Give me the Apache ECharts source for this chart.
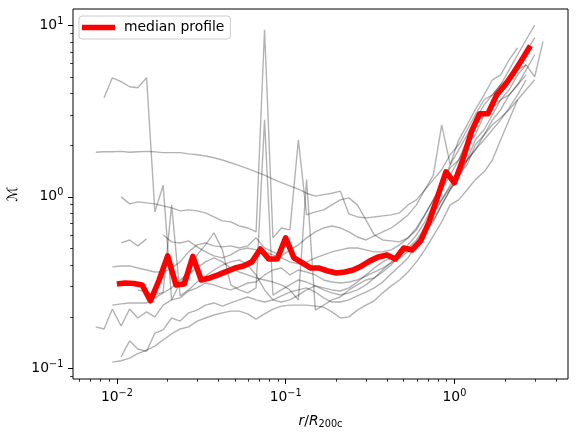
<!DOCTYPE html>
<html>
<head>
<meta charset="utf-8">
<script src="https://cdn.jsdelivr.net/npm/echarts@6/dist/echarts.min.js"></script>
<style>
html, body { margin: 0; padding: 0; background: #fff; }
#chart { width: 578px; height: 439px; }
</style>
</head>
<body>
<div id="chart"></div>
<script>
// radial grid shared by the individual (gray) profiles
const radius = [0.0075, 0.0084, 0.0094, 0.0106, 0.0119, 0.0133, 0.0150, 0.0168, 0.0188, 0.0211,
    0.0237, 0.0266, 0.0299, 0.0335, 0.0376, 0.0422, 0.0473, 0.0531, 0.0596, 0.0668,
    0.0750, 0.0841, 0.0944, 0.106, 0.119, 0.133, 0.150, 0.168, 0.188, 0.211,
    0.237, 0.266, 0.299, 0.335, 0.376, 0.422, 0.473, 0.531, 0.596, 0.668,
    0.750, 0.841, 0.944, 1.06, 1.19, 1.33, 1.50, 1.68, 1.88, 2.11,
    2.37, 2.66, 2.99, 3.35];

const profile1 = [1.82, 1.83, 1.83, 1.84, 1.82, 1.83, 1.84, 1.83, 1.81, 1.81, 1.81, 1.78, 1.76, 1.73, 1.69, 1.64, 1.58, 1.52, 1.46, 1.40, 1.34, 1.27, 1.21, 1.16, 1.11, 1.05, 1.01, 1.03, 1.05, 1.08, 0.796, 0.764, 0.754, 0.764, 0.775, 0.785, 0.807, 0.898, 0.961, 1.10, 1.34, 2.63, 1.54, 2.15, 2.63, 3.22, 3.93, 4.81, 5.14, 6.29, 7.39, null, null, null];
const profile2 = [null, 3.78, 4.94, 4.69, 4.38, 4.32, 4.94, 0.818, 1.17, 0.251, 0.315, 0.375, 0.459, 0.525, 0.617, 0.491, 0.307, 0.287, 0.276, 0.295, 2.81, 0.268, 0.287, 0.307, 0.328, 0.319, 0.303, 0.287, 0.276, 0.268, 0.276, 0.287, 0.307, 0.337, 0.375, 0.418, 0.459, 0.504, 0.561, 0.659, 0.734, 0.898, 1.10, 1.34, 1.64, 2.15, 2.46, 3.01, 3.68, 4.21, 5.14, 5.88, null, null];
const profile3 = [null, null, null, 1.0, 0.910, 0.935, 0.923, 0.910, 0.886, 0.863, 0.829, 0.840, 0.829, 0.807, 0.764, 0.725, 0.715, 0.677, 0.659, 0.625, 9.41, 0.577, 0.659, 0.642, 2.15, 0.785, 0.818, 0.840, 0.898, 0.961, 0.987, 0.898, 0.734, 0.600, 0.561, 0.554, 0.547, 0.577, 0.642, 0.785, 0.961, 1.17, 1.54, 1.88, 2.30, 2.81, 3.44, 3.93, 4.50, 5.50, 6.73, 8.23, 10.0, null];
const profile4 = [null, null, null, 0.539, 0.561, 0.518, 0.569, null, 0.600, 0.547, 0.539, 0.554, 0.511, 0.478, 0.453, 0.441, 0.459, 0.491, 0.504, 0.491, 0.478, 0.459, 0.441, 0.418, 0.407, 0.418, 0.441, 0.459, 0.478, 0.491, 0.504, 0.504, 0.491, 0.478, 0.478, 0.491, 0.525, 0.577, 0.659, 0.785, 0.961, 1.17, 1.48, 1.64, 2.01, 2.30, 3.01, 3.30, 3.68, 3.93, 4.50, 5.14, null, null];
const profile5 = [null, null, 0.391, 0.396, 0.396, 0.385, 0.375, 0.365, 0.365, 0.385, 0.418, 0.478, 0.525, 0.539, 0.518, 0.511, 0.518, 0.504, 0.518, 0.577, 0.504, 0.478, 0.453, 0.491, 0.525, 0.577, 0.625, 0.659, 0.677, 0.659, 0.625, 0.584, 0.561, 0.593, 0.625, 0.659, 0.715, 0.785, 0.898, 1.10, 1.26, 1.44, 1.76, 2.01, 2.46, 3.01, 3.68, 3.93, 4.50, 4.94, 5.50, 5.88, 5.01, 8.02];
const profile6 = [0.175, 0.170, 0.222, 0.177, 0.222, 0.197, 0.214, 0.200, 0.234, 0.251, 0.258, 0.283, 0.295, 0.315, 0.307, 0.295, 0.287, 0.299, 0.315, 0.319, 0.351, 0.375, 0.385, 0.351, 0.375, 0.365, 0.351, 0.328, 0.319, 0.315, 0.319, 0.328, 0.346, 0.365, 0.385, 0.412, 0.441, 0.478, 0.525, 0.625, 0.715, 0.898, 1.10, 1.29, 1.64, 1.88, 2.30, 2.81, 3.22, 3.93, 4.50, 5.50, 6.73, null];
const profile7 = [null, null, 0.234, 0.238, 0.241, 0.241, 0.241, 0.258, 0.276, 0.295, 0.328, 0.360, 0.385, 0.418, 0.441, 0.418, 0.385, 0.365, 0.351, 0.337, 0.328, 0.319, 0.307, 0.287, 0.251, 1.26, 0.219, 0.234, 0.251, 0.261, 0.287, 0.307, 0.328, 0.337, 0.365, 0.401, 0.459, 0.525, 0.600, 0.715, 0.898, 1.10, 1.34, 1.64, 2.15, 2.63, 3.01, 3.44, 4.10, 4.81, 5.63, 7.00, 8.45, null];
const profile8 = [null, null, 0.109, 0.111, 0.115, 0.122, 0.128, 0.135, 0.147, 0.159, 0.170, 0.175, 0.189, 0.197, 0.205, 0.211, 0.216, 0.216, 0.208, 0.194, 0.208, 0.222, 0.231, 0.234, 0.234, 0.234, 0.231, 0.228, 0.214, 0.197, 0.200, 0.219, 0.234, 0.248, 0.276, 0.303, 0.328, 0.365, 0.418, 0.491, 0.593, 0.715, 0.898, 0.961, 1.10, 1.26, 1.40, 1.64, 2.15, 2.81, 3.68, null, null, null];
const profile9 = [null, null, null, 0.117, 0.145, 0.130, 0.126, 0.161, 0.168, 0.197, 0.189, 0.211, 0.219, 0.234, 0.241, 0.231, 0.241, 0.251, 0.261, 0.251, 0.244, 0.251, 0.265, 0.279, 0.287, 0.295, 0.279, 0.258, 0.244, 0.244, 0.251, 0.265, 0.279, 0.295, 0.319, 0.356, 0.396, 0.441, 0.525, 0.642, 0.785, 0.961, 1.17, 1.44, 1.64, 1.88, 2.15, 2.46, 2.81, 3.30, 3.93, 4.81, null, null];
const profile10 = [null, null, null, null, null, 0.287, 0.279, 0.268, 0.279, 0.898, 0.265, 0.287, 0.319, 0.346, 0.375, 0.401, 0.418, 0.429, 0.401, 0.351, 0.287, 0.251, 0.244, 0.251, 0.268, 0.287, 0.303, 0.295, 0.287, 0.283, 0.295, 0.319, 0.351, 0.385, 0.418, 0.441, 0.459, 0.491, 0.547, 0.642, 0.818, 0.961, 1.13, 1.34, 1.54, 2.01, 2.30, 2.63, 2.89, 3.22, 3.68, 4.21, 4.81, null];

const profiles = [profile1, profile2, profile3, profile4, profile5, profile6, profile7, profile8, profile9, profile10];

// median profile has its own bins
const medianRadius = [0.0100, 0.0112, 0.0126, 0.0141, 0.0158, 0.0178, 0.0200, 0.0224, 0.0251, 0.0282,
    0.0316, 0.0355, 0.0398, 0.0447, 0.0501, 0.0562, 0.0631, 0.0708, 0.0794, 0.0891,
    0.100, 0.112, 0.126, 0.141, 0.158, 0.178, 0.200, 0.224, 0.251, 0.282,
    0.316, 0.355, 0.398, 0.447, 0.501, 0.562, 0.631, 0.708, 0.794, 0.891,
    1.000, 1.12, 1.26, 1.41, 1.58, 1.78, 2.00, 2.24, 2.51, 2.82];
const medianProfile = [0.311, 0.315, 0.313, 0.307, 0.248, 0.328, 0.453, 0.307, 0.311, 0.450,
    0.328, 0.337, 0.351, 0.368, 0.385, 0.396, 0.418, 0.497, 0.435, 0.435,
    0.577, 0.441, 0.412, 0.385, 0.385, 0.370, 0.360, 0.365, 0.375, 0.396,
    0.424, 0.447, 0.459, 0.435, 0.504, 0.491, 0.554, 0.715, 1.0, 1.40,
    1.21, 1.64, 2.39, 3.05, 3.05, 3.93, 4.50, 5.28, 6.29, 7.59];

const xMajor = [0.01, 0.1, 1];
const xMinor = [0.006, 0.007, 0.008, 0.009, 0.02, 0.03, 0.04, 0.05, 0.06, 0.07, 0.08, 0.09,
    0.2, 0.3, 0.4, 0.5, 0.6, 0.7, 0.8, 0.9, 2, 3, 4];
const yMajor = [0.1, 1, 10];
const yMinor = [0.09, 0.2, 0.3, 0.4, 0.5, 0.6, 0.7, 0.8, 0.9, 2, 3, 4, 5, 6, 7, 8, 9];

const font = "DejaVu Sans";

let dom = document.getElementById("chart");
let myChart = echarts.init(dom, null, { renderer: "canvas" });

function powerLabel(v) {
    let e = Math.round(Math.log10(v));
    return "{b|10}{s|" + (e < 0 ? "\u2212" + (-e) : e) + "}";
}

const labelRich = {
    b: { fontFamily: font, fontSize: 13.9, color: "#000", lineHeight: 16 },
    s: { fontFamily: font, fontSize: 9.7, color: "#000", verticalAlign: "bottom", padding: [0, 0, 8, 0] },
};

function majorAxis(values, extra) {
    return Object.assign({
        type: "log",
        logBase: 10,
        axisLine: { show: false },
        splitLine: { show: false },
        axisTick: { show: true, inside: false, length: 4.9, customValues: values, lineStyle: { color: "#000", width: 1 } },
        axisLabel: { show: true, customValues: values, margin: 9.7, formatter: powerLabel, rich: labelRich },
    }, extra);
}

function minorAxis(values, extra) {
    return Object.assign({
        type: "log",
        logBase: 10,
        axisLine: { show: false },
        splitLine: { show: false },
        axisTick: { show: true, inside: false, length: 2.8, customValues: values, lineStyle: { color: "#000", width: 0.8 } },
        axisLabel: { show: false },
    }, extra);
}

let series = profiles.map((p, idx) => ({
    name: "profile " + (idx + 1),
    type: "line",
    data: radius.map((r, i) => [r, p[i]]),
    showSymbol: false,
    symbol: "none",
    connectNulls: false,
    lineStyle: { color: "rgba(0,0,0,0.3)", width: 1.4 },
    silent: true,
    z: 2,
}));

series.push({
    name: "median profile",
    type: "line",
    data: medianRadius.map((r, i) => [r, medianProfile[i]]),
    symbol: "none",
    itemStyle: { color: "#ff0000" },
    lineStyle: { color: "#ff0000", width: 5.6, join: "round" },
    z: 5,
});

let option = {
    animation: false,
    backgroundColor: "#fff",
    textStyle: { fontFamily: font },
    grid: {
        left: 73, right: 10, top: 9, bottom: 60,
        containLabel: false,
        outerBoundsMode: "none",
        show: true,
        borderColor: "#000",
        borderWidth: 1,
        backgroundColor: "transparent",
    },
    legend: {
        data: ["median profile"],
        left: 79, top: 16,
        orient: "vertical",
        icon: "rect",
        itemWidth: 33,
        itemHeight: 5.5,
        padding: [4.5, 6, 4.5, 3],
        borderColor: "#cccccc",
        borderWidth: 1,
        borderRadius: 3,
        backgroundColor: "rgba(255,255,255,0.8)",
        textStyle: { fontFamily: font, fontSize: 13.9, color: "#000", padding: [0, 0, 0, 4] },
    },
    xAxis: [
        majorAxis(xMajor, {
            min: 0.005496, max: 4.71, position: "bottom",
            name: "{i|r}{n|/}{i|R}{sub|200c}",
            nameLocation: "middle",
            nameGap: 34,
            nameTextStyle: {
                rich: {
                    i: { fontFamily: font, fontStyle: "italic", fontSize: 13.9, color: "#000" },
                    n: { fontFamily: font, fontSize: 13.9, color: "#000" },
                    sub: { fontFamily: font, fontSize: 9.7, color: "#000", verticalAlign: "top", padding: [6, 0, 0, 0] },
                },
            },
        }),
        minorAxis(xMinor, { min: 0.005496, max: 4.71, position: "bottom" }),
    ],
    yAxis: [
        majorAxis(yMajor, {
            min: 0.0869, max: 12.43, position: "left",
            name: "\u2133",
            nameLocation: "middle",
            nameRotate: 90,
            nameGap: 48,
            nameTextStyle: { fontFamily: font, fontSize: 13.9, color: "#000" },
        }),
        minorAxis(yMinor, { min: 0.0869, max: 12.43, position: "left" }),
    ],
    series: series,
};

series.forEach(s => { s.xAxisIndex = 0; s.yAxisIndex = 0; });

if (option && typeof option === "object") {
    myChart.setOption(option);
}

window.addEventListener("resize", myChart.resize);
</script>
</body>
</html>
